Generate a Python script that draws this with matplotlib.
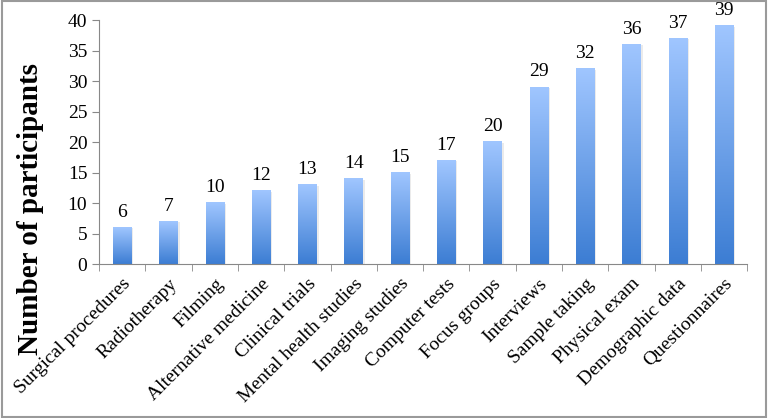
import numpy as np
import matplotlib
matplotlib.use("Agg")
from matplotlib import pyplot as plt
from matplotlib.colors import LinearSegmentedColormap
from matplotlib.patches import Rectangle

categories = ["Surgical procedures", "Radiotherapy", "Filming", "Alternative medicine",
              "Clinical trials", "Mental health studies", "Imaging studies", "Computer tests",
              "Focus groups", "Interviews", "Sample taking", "Physical exam",
              "Demographic data", "Questionnaires"]
participants = [6, 7, 10, 12, 13, 14, 15, 17, 20, 29, 32, 36, 37, 39]

plt.rcParams['font.family'] = ['Liberation Serif', 'DejaVu Serif']

fig = plt.figure(figsize=(7.68, 4.18), dpi=100)
ax = fig.add_axes([0.129, 0.368, 0.844, 0.584])

x = np.arange(len(categories))
bars = ax.bar(x, participants, width=0.4, color='none', edgecolor='none', zorder=2)

cmap = LinearSegmentedColormap.from_list("bluegrad", ["#3C7DD3", "#A0C6FF"])
grad = np.linspace(0, 1, 256).reshape(-1, 1)
for b, v in zip(bars, participants):
    x0, w, h = b.get_x(), b.get_width(), b.get_height()
    # faint shadow
    ax.add_patch(Rectangle((x0 + 0.04, 0), w, h - 0.15, facecolor='#000000', alpha=0.08,
                           edgecolor='none', zorder=1))
    ax.imshow(grad, cmap=cmap, origin='lower', aspect='auto',
              extent=(x0, x0 + w, 0, h), zorder=2, interpolation='bicubic')
    ax.text(x0 + w / 2, h + 1.1, str(v), ha='center', va='bottom', fontsize=14)

ax.set_xlim(-0.5, len(categories) - 0.5)
ax.set_ylim(0, 40)
ax.set_yticks(np.arange(0, 41, 5))
ax.set_xticks(x)
ax.set_xticklabels(categories, rotation=45, ha='right', rotation_mode='anchor', fontsize=14)
ax.set_xticks(np.arange(-0.5, len(categories), 1), minor=True)
ax.tick_params(axis='x', which='major', length=0, pad=8)
ax.tick_params(axis='x', which='minor', length=5, color='#888888', direction='out')
ax.tick_params(axis='y', length=5, color='#888888', direction='out', labelsize=14)

for s in ['top', 'right']:
    ax.spines[s].set_visible(False)
for s in ['left', 'bottom']:
    ax.spines[s].set_color('#888888')

fig.text(0.040, 0.500, "Number of participants", rotation=90, ha='center', va='center',
         fontsize=21, fontweight='bold')

fig.patches.append(Rectangle((0.002, 0.003), 0.996, 0.994, transform=fig.transFigure,
                             fill=False, edgecolor='#9a9a9a', linewidth=1.5))

fig.savefig("out.png", dpi=100)
